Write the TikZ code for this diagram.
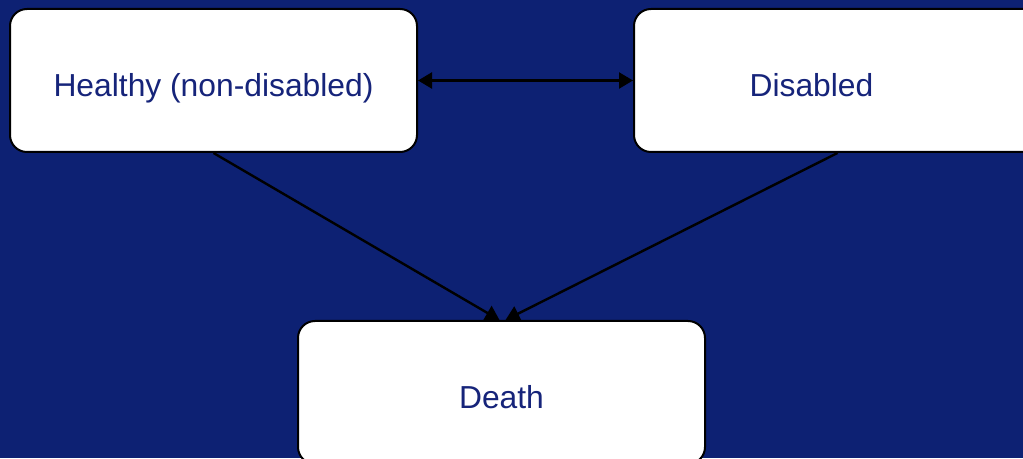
\documentclass[tikz,border=0pt]{standalone}
\usepackage{fontspec}
\setmainfont{Liberation Sans}
\usetikzlibrary{arrows.meta, positioning}
\definecolor{bgblue}{RGB}{13,33,115}
\definecolor{txtblue}{RGB}{22,36,122}

\begin{document}
\begin{tikzpicture}[>={Triangle[length=14pt,width=16pt]}, x=1pt, y=1pt,
    font=\fontsize{31.8}{36}\selectfont,
    txt/.style={text=txtblue, text height=32pt, text depth=0pt},
    state/.style={txt, draw, fill=white, line width=2pt, rounded corners=17pt,
        minimum width=407pt, minimum height=143pt, inner sep=0pt},
    arr/.style={->, line width=2.4pt}]
\fill[bgblue] (0,0) rectangle (1023,458);
\useasboundingbox (0,0) rectangle (1023,458);

\node[state] (healthy) at (213.5,377.5) {Healthy (non-disabled)};
\node[state, right=215pt of healthy] (disabled) {};
\node[txt] (disabled-text) at ([xshift=-26pt]disabled.center) {Disabled};
\node[state] (death) at (501.5,65.5) {Death};

\draw[<->, line width=2.4pt] (healthy) -- (disabled);
\draw[arr] (healthy.south) -- ([xshift=-2pt]death.north);
\draw[arr] (disabled.south) -- ([xshift=4pt]death.north);

\end{tikzpicture}
\end{document}
